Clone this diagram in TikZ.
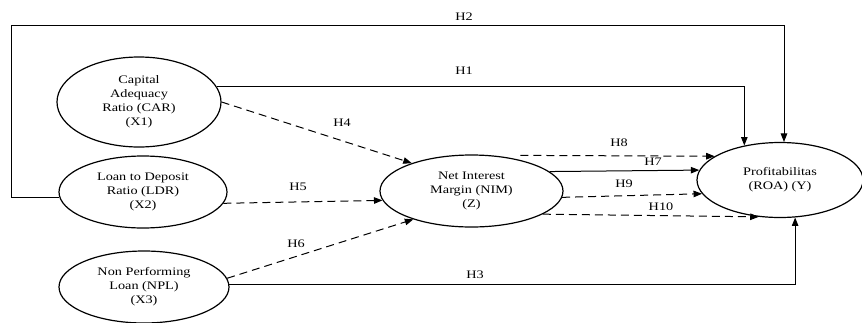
\documentclass[tikz,border=0pt]{standalone}
\usepackage{fontspec}
\setmainfont[FakeStretch=1.24]{Liberation Serif}
\usetikzlibrary{shapes.geometric,arrows.meta}
\tikzset{
  var/.style={ellipse,draw,line width=1.2pt,inner sep=0pt,align=center,
    font=\fontsize{11.5}{14}\selectfont},
  lbl/.style={inner sep=0pt,font=\fontsize{11.5}{14}\selectfont},
  arr/.style={line width=1pt,-{Triangle[length=8.5pt,width=6.5pt]}},
  darr/.style={arr,dash pattern=on 8pt off 5pt}
}
\begin{document}
\begin{tikzpicture}[x=1pt,y=-1pt]
\useasboundingbox (0,0) rectangle (862,322);
\node[var,minimum width=164pt,minimum height=90pt] (car) at (139,102) {Capital\\Adequacy\\Ratio (CAR)\\(X1)};
\node[var,minimum width=168pt,minimum height=72pt] (ldr) at (143,192) {Loan to Deposit\\Ratio (LDR)\\(X2)};
\node[var,minimum width=170pt,minimum height=72pt] (npl) at (144,287) {Non Performing\\Loan (NPL)\\(X3)};
\node[var,minimum width=183pt,minimum height=72pt] (nim) at (471.5,191) {Net Interest\\Margin (NIM)\\(Z)};
\node[var,minimum width=166pt,minimum height=75pt] (roa) at (780,180) {Profitabilitas\\(ROA) (Y)};
\coordinate (h2corner) at (11,25);
% solid connectors
\draw[arr] (ldr.184) -| (h2corner) -| (roa.84);
\draw[arr] (car.11) -| (roa.136);
\draw[arr] (npl.2) -| (roa.-68);
\draw[arr] (nim.14) -- (roa.173);
% dashed connectors
\draw[darr] (car.east) -- (nim.155);
\draw[darr] (ldr.-8) -- (nim.186);
\draw[darr] (npl.6) -- (nim.206);
\draw[darr] ([shift={(7,-3)}]nim.38) -- (roa.160);
\draw[darr] (nim.-4) -- (roa.190);
\draw[darr] (nim.-18) -- (roa.240);
% labels
\node[lbl] (l2) at (464,17) {H2};
\node[lbl] (l1) at (464,71) {H1};
\node[lbl] (l4) at (342,123) {H4};
\node[lbl] (l5) at (298,187) {H5};
\node[lbl] (l6) at (296,244) {H6};
\node[lbl] (l8) at (619,143) {H8};
\node[lbl] (l7) at (653,162) {H7};
\node[lbl] (l9) at (624,184) {H9};
\node[lbl] (l10) at (661,207) {H10};
\node[lbl] (l3) at (475,275) {H3};
\end{tikzpicture}
\end{document}
